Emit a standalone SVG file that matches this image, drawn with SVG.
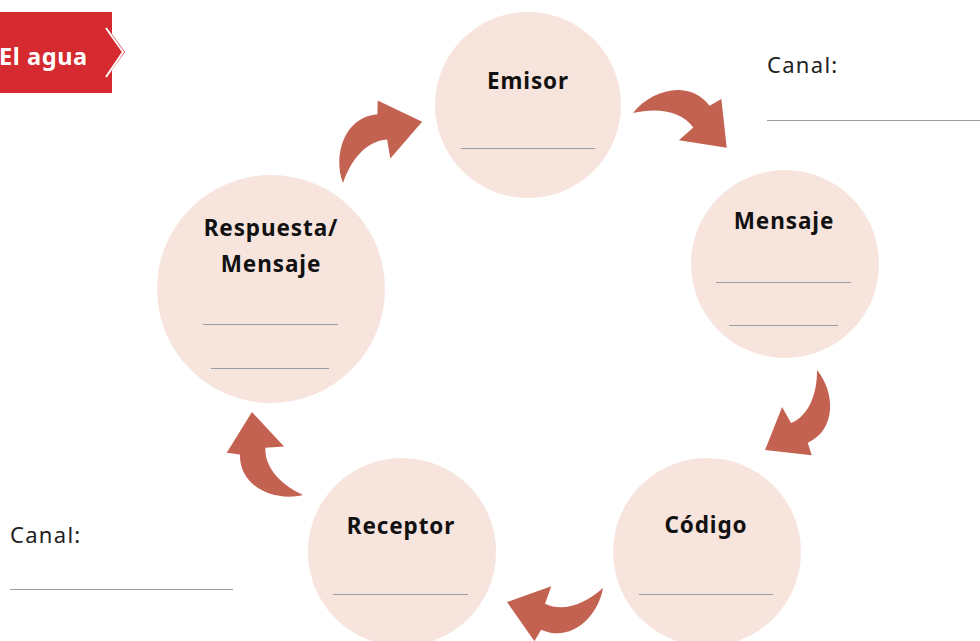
<svg xmlns="http://www.w3.org/2000/svg" width="980" height="641" viewBox="0 0 980 641">
<style>
.c{fill:#f7e4dd}
.t{font-family:"Noto Sans","Liberation Sans",sans-serif;font-weight:700;font-size:22.5px;fill:#111;text-anchor:middle;letter-spacing:0.9px}
.l{stroke:#9a9ea6;stroke-width:1;fill:none}
.cn{font-family:"Noto Sans","Liberation Sans",sans-serif;font-size:22px;fill:#222;letter-spacing:1.3px}
.a{fill:#c46251}
</style>
<defs>
<path id="arr" d="M0,0 C9,-28.5 41.4,-51.5 69.3,-33.4 L77.9,-44 L100,0 L52.5,9.5 L61.5,-7.5 C43.7,-19.5 19.6,-13 0,0 Z"/>
</defs>
<rect width="980" height="641" fill="#fff"/>
<g id="title">
<polygon points="0,12 112,12 112,34 125,52 112,70 112,93 0,93" fill="#d42a30"/>
<polyline points="106,28 123,52 106,77" fill="none" stroke="#fff" stroke-width="2"/>
<text x="-1" y="65" font-family="Noto Sans,Liberation Sans,sans-serif" font-weight="700" font-size="23.5" fill="#fff" letter-spacing="0.6">El agua</text>
</g>
<g id="emisor">
<circle class="c" cx="528" cy="105" r="93"/>
<text class="t" x="528" y="89">Emisor</text>
<line class="l" x1="461" y1="148.5" x2="595" y2="148.5"/>
</g>
<g id="mensaje">
<circle class="c" cx="785" cy="264" r="94"/>
<text class="t" x="784" y="229">Mensaje</text>
<line class="l" x1="716" y1="282.5" x2="851" y2="282.5"/>
<line class="l" x1="729" y1="325.5" x2="838" y2="325.5"/>
</g>
<g id="codigo">
<circle class="c" cx="707" cy="552" r="94"/>
<text class="t" x="706" y="533">Código</text>
<line class="l" x1="639" y1="594.5" x2="773" y2="594.5"/>
</g>
<g id="receptor">
<circle class="c" cx="402" cy="552" r="94"/>
<text class="t" x="401" y="534">Receptor</text>
<line class="l" x1="333" y1="594.5" x2="468" y2="594.5"/>
</g>
<g id="respuesta">
<circle class="c" cx="271" cy="289" r="114"/>
<text class="t" x="271" y="236">Respuesta/</text>
<text class="t" x="271" y="272">Mensaje</text>
<line class="l" x1="203" y1="324.5" x2="338" y2="324.5"/>
<line class="l" x1="211" y1="368.5" x2="329" y2="368.5"/>
</g>
<g id="canal1">
<text class="cn" x="767" y="73">Canal:</text>
<line class="l" x1="767" y1="120.5" x2="980" y2="120.5"/>
</g>
<g id="canal2">
<text class="cn" x="10" y="543">Canal:</text>
<line class="l" x1="10" y1="589.5" x2="233" y2="589.5"/>
</g>
<g id="connectors" class="a">
<use href="#arr" transform="translate(343,183) rotate(-37.7)"/>
<use href="#arr" transform="translate(633,113) rotate(20.4)"/>
<use href="#arr" transform="translate(817,370) rotate(123) scale(0.954)"/>
<use href="#arr" transform="translate(603,588) rotate(171.7) scale(0.97)"/>
<use href="#arr" transform="translate(303,495) rotate(-121.6) scale(0.974)"/>
</g>
</svg>
